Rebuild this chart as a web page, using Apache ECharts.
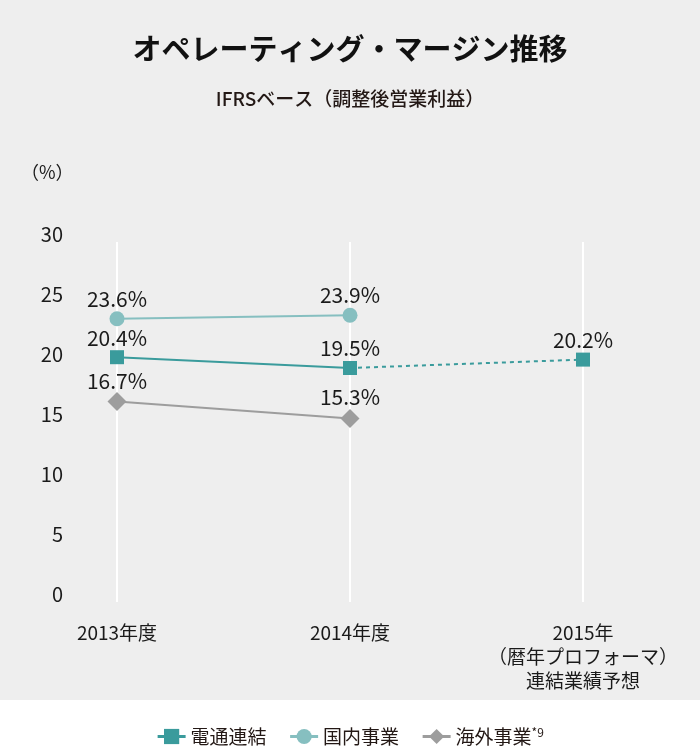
<!DOCTYPE html>
<html><head><meta charset="utf-8">
<script src="https://cdn.jsdelivr.net/npm/echarts@6/dist/echarts.min.js"></script>
<style>html,body{margin:0;padding:0;background:#fff}#c{width:700px;height:746px}</style>
</head><body><div id="c"></div>
<script>
const categories = ['2013年度', '2014年度', '2015年\n（暦年プロフォーマ）\n連結業績予想'];
const dentsuActual = [20.4, 19.5, '-'];
const dentsuForecast = ['-', 19.5, 20.2];
const domestic = [23.6, 23.9, '-'];
const overseas = [16.7, 15.3, '-'];
const yTicks = { min: 0, max: 30, interval: 5 };

const FONT = '"Noto Sans CJK JP", "Noto Sans", sans-serif';
const TEAL = '#3a9b9c', LTEAL = '#86bfc0', GRAY = '#9d9d9d', TXT = '#1a1a1a';

const chart = echarts.init(document.getElementById('c'), null, { renderer: 'canvas' });
const lbl = { show: true, position: 'top', distance: 2, fontSize: 21, color: TXT, fontFamily: FONT, formatter: p => p.value + '%' };

chart.setOption({
  backgroundColor: '#eeeeee',
  textStyle: { fontFamily: FONT },
  graphic: [{ type: 'rect', left: 0, top: 700, z: 0, shape: { width: 700, height: 46 }, style: { fill: '#ffffff' } }],
  title: [
    { text: 'オペレーティング・マージン推移', left: 'center', top: 29, textStyle: { fontSize: 29, fontWeight: 'bold', color: '#111', fontFamily: FONT } },
    { text: 'IFRSベース（調整後営業利益）', left: 'center', top: 84, textStyle: { fontSize: 19, fontWeight: 500, color: '#231815', fontFamily: FONT } },
    { text: '（%）', left: 16, top: 158, textStyle: { fontSize: 18, fontWeight: 'normal', color: TXT, fontFamily: FONT } }
  ],
  legend: {
    bottom: -5, left: 'center', itemWidth: 28, itemHeight: 19, itemGap: 22,
    lineStyle: { width: 3 },
    data: ['電通連結', '国内事業', '海外事業'],
    formatter: n => n === '海外事業' ? n + '{s|*9}' : n,
    textStyle: { fontSize: 19, color: '#231815', fontFamily: FONT,
      rich: { s: { fontSize: 12, color: '#231815', verticalAlign: 'top', padding: [0, 0, 8, 0], fontFamily: FONT } } }
  },
  grid: { left: 117, right: 117, top: 242, bottom: 144 },
  xAxis: {
    type: 'category', data: categories, boundaryGap: false,
    axisLine: { show: false }, axisTick: { show: false },
    splitLine: { show: true, interval: 0, lineStyle: { color: '#ffffff', width: 2 } },
    axisLabel: { interval: 0, margin: 19, fontSize: 19, lineHeight: 24, color: TXT, fontFamily: FONT, verticalAlign: 'top' }
  },
  yAxis: {
    type: 'value', min: yTicks.min, max: yTicks.max, interval: yTicks.interval,
    axisLine: { show: false }, axisTick: { show: false }, splitLine: { show: false },
    axisLabel: { margin: 54, fontSize: 20, color: TXT, fontFamily: FONT, verticalAlign: 'bottom', lineHeight: 16 }
  },
  series: [
    { name: '国内事業', type: 'line', data: domestic, symbol: 'circle', symbolSize: 15,
      lineStyle: { color: LTEAL, width: 2 }, itemStyle: { color: LTEAL }, label: lbl, z: 3 },
    { name: '電通連結予想', type: 'line', data: dentsuForecast, symbol: 'rect', symbolSize: 14,
      lineStyle: { color: TEAL, width: 2, type: [4, 4] }, itemStyle: { color: TEAL },
      label: { ...lbl, formatter: p => p.dataIndex === 2 ? p.value + '%' : '' }, z: 2 },
    { name: '電通連結', type: 'line', data: dentsuActual, symbol: 'rect', symbolSize: 14,
      lineStyle: { color: TEAL, width: 2 }, itemStyle: { color: TEAL }, label: lbl, z: 4 },
    { name: '海外事業', type: 'line', data: overseas, symbol: 'diamond', symbolSize: 19,
      lineStyle: { color: GRAY, width: 2 }, itemStyle: { color: GRAY }, label: { ...lbl, distance: 1 }, z: 3 }
  ]
});
</script></body></html>
